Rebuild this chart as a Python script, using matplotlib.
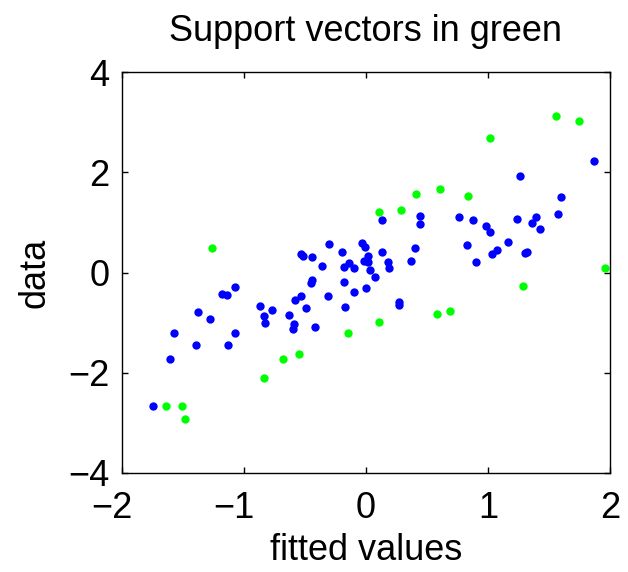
import matplotlib
matplotlib.use("Agg")
from matplotlib import pyplot as plt
from matplotlib.transforms import ScaledTranslation

# points that are not support vectors
fit_blue = [-1.75, -1.61, -1.57, -1.39, -1.38, -1.28, -1.18, -1.14, -1.13, -1.07,
            -1.07, -0.87, -0.84, -0.83, -0.77, -0.63, -0.60, -0.59, -0.58, -0.53,
            -0.53, -0.52, -0.49, -0.45, -0.44, -0.44, -0.42, -0.36, -0.31, -0.30,
            -0.20, -0.18, -0.18, -0.17, -0.14, -0.10, -0.10, -0.03, -0.01, -0.02,
            0.02, 0.02, 0.00, 0.03, 0.07, 0.13, 0.13, 0.18, 0.19, 0.27,
            0.27, 0.37, 0.40, 0.44, 0.44, 0.76, 0.83, 0.88, 0.90, 0.98,
            1.02, 1.03, 1.07, 1.16, 1.24, 1.26, 1.30, 1.32, 1.36, 1.39,
            1.43, 1.57, 1.60, 1.87]
data_blue = [-2.66, -1.73, -1.21, -1.45, -0.79, -0.93, -0.43, -0.45, -1.45, -0.29,
             -1.21, -0.67, -0.87, -1.01, -0.75, -0.85, -1.13, -1.03, -0.55, -0.47,
             0.37, 0.33, -0.71, -0.21, -0.15, 0.31, -1.09, 0.13, -0.47, 0.57,
             0.41, 0.11, -0.19, -0.69, 0.19, 0.09, -0.39, 0.59, 0.51, 0.23,
             0.33, 0.21, -0.31, 0.05, -0.09, 0.41, 1.05, 0.21, 0.09, -0.59,
             -0.65, 0.23, 0.49, 1.13, 0.97, 1.11, 0.55, 1.05, 0.21, 0.93,
             0.81, 0.37, 0.45, 0.61, 1.07, 1.93, 0.39, 0.41, 0.99, 1.11,
             0.87, 1.17, 1.51, 2.23]

# support vectors
fit_green = [-1.64, -1.51, -1.48, -1.26, -0.84, -0.68, -0.55, -0.15, 0.11, 0.58,
             0.69, 0.11, 0.29, 0.41, 0.61, 0.84, 1.02, 1.29, 1.56, 1.75, 1.96]
data_green = [-2.66, -2.66, -2.92, 0.49, -2.11, -1.73, -1.63, -1.21, -0.99, -0.83,
              -0.77, 1.21, 1.25, 1.57, 1.67, 1.53, 2.68, -0.27, 3.12, 3.02, 0.09]

xticks = [-2, -1, 0, 1, 2]
yticks = [-4, -2, 0, 2, 4]

plt.rcParams['font.family'] = ['Liberation Sans', 'DejaVu Sans']
fs = 26

fig = plt.figure(figsize=(6.28, 5.72), dpi=100)
ax = fig.add_axes([0.1943, 0.1731, 0.777, 0.701])

ax.plot(fit_blue, data_blue, 'o', color=(0, 0, 1), markersize=6, markeredgewidth=0)
ax.plot(fit_green, data_green, 'o', color=(0, 1, 0), markersize=6, markeredgewidth=0)

ax.set_xlim(-2, 2)
ax.set_ylim(-4, 4)
ax.set_xticks(xticks)
ax.set_xticklabels([str(t).replace('-', '\u2212') for t in xticks])
ax.set_yticks(yticks)
ax.set_yticklabels([str(t).replace('-', '\u2212') for t in yticks])
ax.tick_params(direction='in', top=True, right=True, labelsize=fs, length=4, width=1)
ax.tick_params(axis='x', pad=13)
ax.tick_params(axis='y', pad=9)
for s in ax.spines.values():
    s.set_linewidth(1.0)

# matlab centres the digits on the tick, the minus sign hangs to the left
shift = ScaledTranslation(-0.105, 0, fig.dpi_scale_trans)
for lab in ax.get_xticklabels():
    if lab.get_text().startswith('\u2212'):
        lab.set_transform(lab.get_transform() + shift)

ax.set_xlabel("fitted values", fontsize=fs, labelpad=5)
ax.set_ylabel("data", fontsize=fs, labelpad=11)
ax.set_title("Support vectors in green", fontsize=fs, pad=22)

fig.savefig("out.png", dpi=100)
